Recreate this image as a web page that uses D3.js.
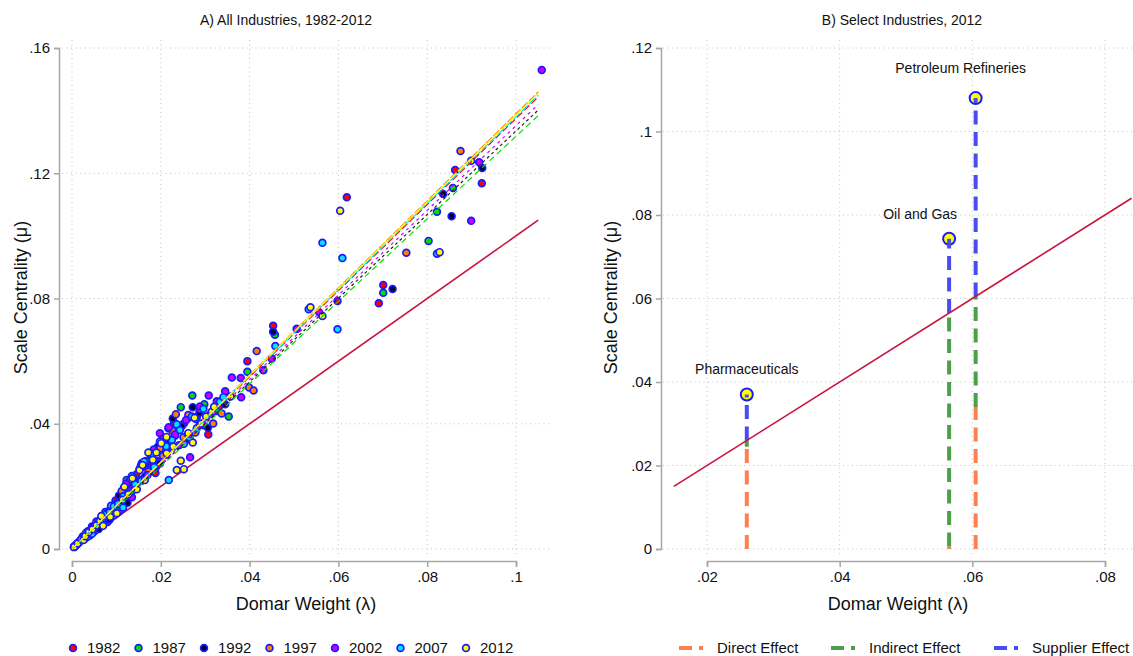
<!DOCTYPE html>
<html>
<head>
<meta charset="utf-8">
<script src="https://cdn.jsdelivr.net/npm/d3@7"></script>
<style>
  body { margin: 0; background: #fff; }
  text { font-family: Arial, "Liberation Sans", Helvetica, sans-serif; fill: #111; }
</style>
</head>
<body>
<svg id="chart" width="1133" height="656"></svg>
<script>

// ---- Data ----

var years = ["1982", "1987", "1992", "1997", "2002", "2007", "2012"];
var yearFill = ["#ff0000", "#00e000", "#000033", "#ff8000", "#cc00ff", "#00e5ff", "#ffff00"];

// [Domar weight, scale centrality] per industry, one array per year
var pts1982 = [[0.0005,0.0007],[0.0012,0.0016],[0.002,0.0028],[0.0028,0.0037],[0.003,0.0034],[0.0035,0.0052],[0.004,0.0043],[0.0042,0.0058],[0.0045,0.0072],[0.005,0.0071],[0.0058,0.0079],[0.0065,0.0072],[0.0066,0.0095],[0.0075,0.0104],[0.008,0.0086],[0.0083,0.0121],[0.0092,0.0128],[0.0098,0.0155],[0.0101,0.0142],[0.0112,0.0163],[0.0119,0.0192],[0.0124,0.0172],[0.0137,0.0201],[0.0145,0.0238],[0.015,0.0216],[0.0163,0.0225],[0.0178,0.0262],[0.0178,0.0298],[0.0188,0.0243],[0.0192,0.0281],[0.0205,0.0339],[0.0215,0.0312],[0.023,0.0403],[0.0252,0.0401],[0.0265,0.0362],[0.0281,0.0421],[0.0307,0.0366],[0.033,0.0452],[0.0395,0.06],[0.0453,0.0713],[0.0598,0.0792],[0.0619,0.1123],[0.0691,0.0785],[0.0701,0.0843],[0.0863,0.121],[0.0923,0.1168]];
var pts1987 = [[0.0007,0.0009],[0.0014,0.0019],[0.0022,0.003],[0.0025,0.0041],[0.003,0.0043],[0.0038,0.0051],[0.0046,0.0066],[0.005,0.0056],[0.0054,0.0073],[0.0062,0.0089],[0.007,0.0097],[0.0075,0.0118],[0.0079,0.0113],[0.0088,0.012],[0.0097,0.0139],[0.0105,0.0119],[0.0108,0.0147],[0.011,0.0125],[0.0118,0.0197],[0.0123,0.022],[0.0132,0.0183],[0.0138,0.0229],[0.0146,0.0209],[0.0155,0.0265],[0.016,0.0221],[0.0167,0.0281],[0.0175,0.0252],[0.019,0.0266],[0.0201,0.0322],[0.0212,0.0301],[0.0232,0.0362],[0.0245,0.0453],[0.0262,0.0418],[0.0271,0.049],[0.0296,0.0395],[0.0298,0.0462],[0.0325,0.0441],[0.0353,0.0423],[0.0395,0.0566],[0.0457,0.0684],[0.0701,0.0818],[0.0803,0.0984],[0.0822,0.1077],[0.0858,0.1153]];
var pts1992 = [[0.0004,0.0006],[0.001,0.0014],[0.0017,0.0024],[0.0025,0.0034],[0.0033,0.0047],[0.0036,0.0057],[0.004,0.0054],[0.0048,0.0068],[0.0056,0.0076],[0.006,0.0064],[0.0064,0.0092],[0.0073,0.0099],[0.0081,0.0117],[0.0085,0.0094],[0.009,0.0124],[0.0099,0.0141],[0.0106,0.0171],[0.011,0.0151],[0.0121,0.0175],[0.0125,0.0148],[0.0128,0.0215],[0.0134,0.0183],[0.0148,0.0214],[0.0158,0.0262],[0.0165,0.0232],[0.0183,0.0284],[0.0194,0.0327],[0.0198,0.0273],[0.0219,0.0349],[0.0227,0.0417],[0.0247,0.0392],[0.0258,0.0349],[0.0272,0.0453],[0.0287,0.0435],[0.0306,0.0387],[0.0345,0.0462],[0.0453,0.0694],[0.0722,0.083],[0.0836,0.1134],[0.0855,0.1063],[0.0924,0.1217]];
var pts1997 = [[0.0006,0.0008],[0.0013,0.0018],[0.0021,0.0029],[0.0029,0.0041],[0.0035,0.0039],[0.0037,0.005],[0.0044,0.0063],[0.0052,0.0071],[0.0055,0.0088],[0.006,0.0087],[0.0068,0.0094],[0.0077,0.0111],[0.0086,0.0118],[0.0095,0.0137],[0.0095,0.0108],[0.0105,0.0146],[0.0112,0.0185],[0.0117,0.0169],[0.013,0.0179],[0.0132,0.0221],[0.0143,0.0206],[0.0157,0.0219],[0.0164,0.0275],[0.0172,0.0247],[0.0188,0.0259],[0.0198,0.0321],[0.0205,0.0298],[0.0226,0.0378],[0.0234,0.043],[0.0251,0.0357],[0.0262,0.0428],[0.0278,0.0372],[0.0289,0.0447],[0.0318,0.0401],[0.0337,0.0433],[0.0399,0.0516],[0.0409,0.0506],[0.0416,0.0632],[0.0753,0.0946],[0.0875,0.1271]];
var pts2002 = [[0.0005,0.0008],[0.0011,0.0016],[0.0019,0.0027],[0.0023,0.0037],[0.0027,0.0038],[0.0034,0.0049],[0.0041,0.0057],[0.0049,0.007],[0.0057,0.0078],[0.0065,0.0094],[0.007,0.0081],[0.0074,0.0103],[0.0082,0.0119],[0.0091,0.0126],[0.0102,0.0147],[0.0114,0.0158],[0.0122,0.0208],[0.0127,0.0186],[0.0135,0.0165],[0.0141,0.0197],[0.0152,0.0255],[0.0157,0.0274],[0.017,0.0236],[0.0184,0.0318],[0.0198,0.037],[0.0205,0.0352],[0.0217,0.0386],[0.0218,0.0389],[0.0232,0.0366],[0.0241,0.0331],[0.0257,0.0412],[0.0266,0.0293],[0.0288,0.0455],[0.0308,0.049],[0.0326,0.0472],[0.0345,0.0504],[0.036,0.0548],[0.038,0.0546],[0.0381,0.0485],[0.0431,0.0571],[0.045,0.0608],[0.0506,0.0703],[0.0557,0.0755],[0.0899,0.1048],[0.0917,0.1235],[0.1058,0.153]];
var pts2007 = [[0.0006,0.0009],[0.0012,0.0017],[0.002,0.0029],[0.0027,0.0039],[0.0032,0.0052],[0.0036,0.0049],[0.0043,0.0062],[0.0045,0.0049],[0.0051,0.0069],[0.0059,0.0085],[0.0067,0.0092],[0.0076,0.011],[0.0085,0.0117],[0.0088,0.0138],[0.0094,0.0136],[0.0104,0.0144],[0.0115,0.0132],[0.0116,0.0168],[0.0128,0.0177],[0.0135,0.0233],[0.0142,0.0207],[0.0156,0.0218],[0.0162,0.0279],[0.0178,0.0304],[0.0185,0.0262],[0.0198,0.0343],[0.0212,0.0328],[0.0218,0.022],[0.0225,0.0348],[0.0236,0.0398],[0.0243,0.038],[0.0252,0.0336],[0.0264,0.0357],[0.027,0.0423],[0.0279,0.0415],[0.0281,0.0386],[0.0296,0.0448],[0.0312,0.0431],[0.0333,0.047],[0.0341,0.0485],[0.0458,0.0648],[0.0533,0.0766],[0.0564,0.0978],[0.0598,0.0702],[0.0609,0.0929],[0.0822,0.0943]];
var pts2012 = [[0.0005,0.0007],[0.0013,0.0018],[0.0021,0.003],[0.0026,0.0029],[0.003,0.0041],[0.0038,0.0054],[0.0046,0.0063],[0.0055,0.0076],[0.0063,0.009],[0.0066,0.0105],[0.007,0.0074],[0.0086,0.0103],[0.0101,0.0114],[0.0114,0.0157],[0.0118,0.0199],[0.0127,0.0175],[0.0136,0.0226],[0.0146,0.0191],[0.0152,0.0252],[0.0159,0.0268],[0.0164,0.022],[0.0172,0.0308],[0.0182,0.0285],[0.019,0.0308],[0.0201,0.0338],[0.0213,0.0306],[0.0213,0.0358],[0.0228,0.0327],[0.0236,0.0252],[0.0245,0.0282],[0.0252,0.0255],[0.0261,0.0367],[0.0262,0.037],[0.0272,0.034],[0.0276,0.0419],[0.0288,0.0396],[0.0291,0.0401],[0.0302,0.0423],[0.0315,0.0439],[0.032,0.0454],[0.0357,0.0487],[0.0537,0.0772],[0.0564,0.0744],[0.0604,0.108],[0.0828,0.0948],[0.0899,0.124]];
var yearPts = [pts1982, pts1987, pts1992, pts1997, pts2002, pts2007, pts2012];

// linear fits through the origin, one slope per year
var fitSlope = [1.375, 1.318, 1.335, 1.39, 1.352, 1.38, 1.386];
var fitRange = [0, 0.105];
var fitDash = ["7,3", "6,4", "3,3", "8,2", "3,4", "9,2", "10,2"];

var ticksAx = [0, 0.02, 0.04, 0.06, 0.08, 0.1];
var ticksAy = [0, 0.04, 0.08, 0.12, 0.16];

// Panel B
var industries = ["Pharmaceuticals", "Oil and Gas", "Petroleum Refineries"];
var domar = [0.026, 0.0565, 0.0605];
var directEff = [0.0245, 0.0006, 0.034];
var indirectEff = [0.0015, 0.0559, 0.0265];
var supplierEff = [0.011, 0.0178, 0.0475];
var effects = ["Direct Effect", "Indirect Effect", "Supplier Effect"];
var effectColor = ["#ff7f4f", "#4d9f48", "#4b4bf2"];
var diagB = [0.015, 0.084];

var ticksBx = [0.02, 0.04, 0.06, 0.08];
var ticksBy = [0, 0.02, 0.04, 0.06, 0.08, 0.1, 0.12];

// ---- Setup ----

var svg = d3.select("#chart");
var axisCol = "#a6a6a6", gridCol = "#c4c4c4", diagCol = "#c8143c", ringCol = "#1a1aff";

function fmt(d) {
	if (d == 0) return "0";
	return String(+d.toFixed(3)).replace(/^0/, "");
}

function frame(x, y, xt, yt, box, title, titleX) {
	var g = svg.append("g");

	// grid
	g.selectAll(".hg").data(yt).enter().append("line")
		.attr("x1", box.left).attr("x2", box.right)
		.attr("y1", function(d) { return y(d); }).attr("y2", function(d) { return y(d); })
		.attr("stroke", gridCol).attr("stroke-dasharray", "1,3.5");
	g.selectAll(".vg").data(xt).enter().append("line")
		.attr("y1", box.top).attr("y2", box.bottom)
		.attr("x1", function(d) { return x(d); }).attr("x2", function(d) { return x(d); })
		.attr("stroke", gridCol).attr("stroke-dasharray", "1,3.5");

	// axes
	var yAxis = g.append("g")
		.attr("transform", "translate(" + box.axisX + ",0)")
		.call(d3.axisLeft(y).tickValues(yt).tickFormat(fmt).tickSize(5).tickPadding(4));
	var xAxis = g.append("g")
		.attr("transform", "translate(0," + box.axisY + ")")
		.call(d3.axisBottom(x).tickValues(xt).tickFormat(fmt).tickSize(6).tickPadding(4));
	[yAxis, xAxis].forEach(function(a) {
		a.select(".domain").attr("stroke", axisCol).attr("stroke-width", 1.5);
		a.selectAll(".tick line").attr("stroke", axisCol).attr("stroke-width", 1.5);
		a.selectAll(".tick text").attr("font-size", "15px").attr("fill", "#111")
			.attr("font-family", "Arial, 'Liberation Sans', sans-serif");
	});

	g.append("text")
		.attr("x", (box.left + box.right) / 2).attr("y", 610)
		.attr("text-anchor", "middle").attr("font-size", "18px")
		.text("Domar Weight (\u03bb)");
	g.append("text")
		.attr("transform", "translate(" + box.titleX + "," + ((box.top + box.bottom) / 2) + ") rotate(-90)")
		.attr("text-anchor", "middle").attr("font-size", "18px")
		.text("Scale Centrality (\u03bc)");
	g.append("text")
		.attr("x", titleX).attr("y", 25)
		.attr("text-anchor", "middle").attr("font-size", "14px")
		.text(title);
	return g;
}

// ---- Panel A ----

var xA = d3.scaleLinear().domain([0, 0.1]).range([72, 516]);
var yA = d3.scaleLinear().domain([0, 0.16]).range([549, 48]);
var gA = frame(xA, yA, ticksAx, ticksAy,
	{left: 62, right: 550, top: 40, bottom: 555, axisX: 59, axisY: 561, titleX: 27},
	"A) All Industries, 1982-2012", 286);

gA.append("line")
	.attr("x1", xA(fitRange[0])).attr("y1", yA(fitRange[0]))
	.attr("x2", xA(fitRange[1])).attr("y2", yA(fitRange[1]))
	.attr("stroke", diagCol).attr("stroke-width", 1.6);

yearPts.forEach(function(pts, i) {
	gA.append("g").selectAll("circle").data(pts).enter().append("circle")
		.attr("cx", function(d) { return xA(d[0]); })
		.attr("cy", function(d) { return yA(d[1]); })
		.attr("r", 3.4)
		.attr("fill", yearFill[i])
		.attr("stroke", ringCol)
		.attr("stroke-width", 1.7);
});

years.forEach(function(yr, i) {
	gA.append("line")
		.attr("x1", xA(fitRange[0])).attr("y1", yA(fitRange[0] * fitSlope[i]))
		.attr("x2", xA(fitRange[1])).attr("y2", yA(fitRange[1] * fitSlope[i]))
		.attr("stroke", yearFill[i] == "#000033" ? "#222" : yearFill[i])
		.attr("stroke-width", 1.2)
		.attr("stroke-dasharray", fitDash[i]);
});

// legend A
var legA = svg.append("g").attr("class", "legendA");
var legAx = d3.scalePoint().domain(years).range([73, 466]);
years.forEach(function(yr, i) {
	legA.append("circle")
		.attr("cx", legAx(yr)).attr("cy", 648).attr("r", 3.4)
		.attr("fill", yearFill[i]).attr("stroke", ringCol).attr("stroke-width", 1.7);
	legA.append("text")
		.attr("x", legAx(yr) + 14).attr("y", 653)
		.attr("font-size", "15px")
		.text(yr);
});

// ---- Panel B ----

var xB = d3.scaleLinear().domain([0.02, 0.08]).range([707, 1105]);
var yB = d3.scaleLinear().domain([0, 0.12]).range([549, 48]);
var gB = frame(xB, yB, ticksBx, ticksBy,
	{left: 663, right: 1133, top: 40, bottom: 555, axisX: 661, axisY: 561, titleX: 617},
	"B) Select Industries, 2012", 902);

var labelDx = [0, -29, -15];
var labelDy = [-21, -20, -25];

industries.forEach(function(name, i) {
	var lam = domar[i];
	var mu = lam + supplierEff[i];
	var cuts = [0, directEff[i], directEff[i] + indirectEff[i], mu];

	gB.append("circle")
		.attr("cx", xB(lam)).attr("cy", yB(mu)).attr("r", 6)
		.attr("fill", "#ffff00").attr("stroke", ringCol).attr("stroke-width", 2);

	for (var k = 0; k < 3; k++) {
		if (cuts[k + 1] - cuts[k] <= 0) continue;
		gB.append("line")
			.attr("x1", xB(lam)).attr("x2", xB(lam))
			.attr("y1", yB(cuts[k])).attr("y2", yB(cuts[k + 1]))
			.attr("stroke", effectColor[k]).attr("stroke-width", 4)
			.attr("stroke-dasharray", "14,7.5");
	}

	gB.append("text")
		.attr("x", xB(lam) + labelDx[i]).attr("y", yB(mu) + labelDy[i])
		.attr("text-anchor", "middle").attr("font-size", "14px")
		.text(name);
});

gB.append("line")
	.attr("x1", xB(diagB[0])).attr("y1", yB(diagB[0]))
	.attr("x2", xB(diagB[1])).attr("y2", yB(diagB[1]))
	.attr("stroke", diagCol).attr("stroke-width", 1.6);

// legend B
var legBx = [679, 831, 994];
var legB = svg.append("g").attr("class", "legendB");
effects.forEach(function(name, k) {
	legB.append("line")
		.attr("x1", legBx[k]).attr("x2", legBx[k] + 24)
		.attr("y1", 648).attr("y2", 648)
		.attr("stroke", effectColor[k]).attr("stroke-width", 4)
		.attr("stroke-dasharray", "13,7");
	legB.append("text")
		.attr("x", legBx[k] + 38).attr("y", 653)
		.attr("font-size", "15px")
		.text(name);
});

</script>
</body>
</html>
